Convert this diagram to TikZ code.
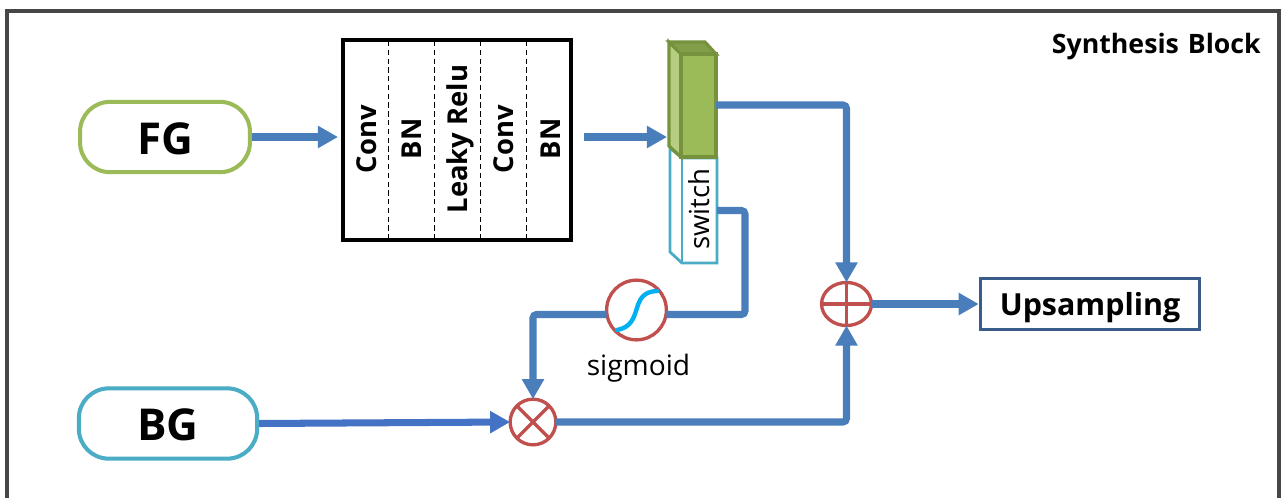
\documentclass[tikz,border=0pt]{standalone}
\usepackage{fontspec}
\setmainfont{Open Sans}
\usetikzlibrary{arrows.meta,positioning,calc,shapes.geometric}
\definecolor{flow}{RGB}{74,126,187}
\definecolor{flowdeep}{RGB}{68,114,196}
\definecolor{leaf}{RGB}{155,187,89}
\definecolor{leafdark}{RGB}{118,146,60}
\definecolor{leaflight}{RGB}{182,206,130}
\definecolor{leaftop}{RGB}{131,158,75}
\definecolor{aqua}{RGB}{75,172,198}
\definecolor{brick}{RGB}{192,80,77}
\definecolor{navy}{RGB}{56,93,138}
\definecolor{frameline}{RGB}{70,70,70}
\definecolor{sigcurve}{RGB}{0,176,240}
\tikzset{
  flowline/.style={draw=flow,line width=4pt,rounded corners=2pt},
  flowarrow/.style={flowline,-{Triangle[length=11.4pt,width=12pt]}},
  pill/.style={rounded corners=17pt,fill=white,line width=2.3pt,minimum height=40pt,font=\fontsize{25}{25}\selectfont\bfseries},
  opcircle/.style={draw=brick,line width=1.9pt,fill=white,inner sep=0pt,outer sep=0pt},
  layertext/.style={rotate=90,anchor=base,font=\fontsize{15.6}{15.6}\selectfont\bfseries},
}
\begin{document}
\begin{tikzpicture}[x=0.02cm,y=-0.02cm]
  \useasboundingbox (0,0) rectangle (1282,498);
  % outer frame
  \draw[frameline,line width=1.9pt] (7,498) |- (1279,11) -- (1279,498);
  \node[anchor=base east,font=\fontsize{15.2}{15.2}\selectfont\bfseries] (title) at (1267,53) {Synthesis\,\,Block};
  % inputs
  \node[pill,draw=leaf,minimum width=96.7pt,text height=24pt,text depth=3.6pt] (fg) at (165,137) {FG};
  \node[pill,draw=aqua,minimum width=101.5pt,text height=23pt,text depth=4.2pt] (bg) at (168,423.5) {BG};
  % layer stack
  \node[draw,line width=2.2pt,minimum width=130pt,minimum height=113.5pt,inner sep=0pt] (stack) at (457,140) {};
  \foreach \x in {388,434,480,526}
    \draw[densely dashed,line width=0.5pt] (\x,41) -- (\x,239);
  \foreach \l/\x in {Conv/376,BN/421,Leaky Relu/467,Conv/513,BN/560}
    \node[layertext] at (\x,139) {\l};
  % switch box
  \draw[aqua,line width=1.6pt,fill=white] (670,148) -- (670,252) -- (682,263) -- (717,263) -- (717,158) -- (682,158) -- cycle;
  \draw[aqua,line width=1.6pt] (682,158) -- (682,263);
  \node[rotate=90,anchor=base,font=\fontsize{15.7}{15.7}\selectfont] (switch) at (709,209) {switch};
  \coordinate (switchout) at (717,210.5);
  % feature block
  \draw[leafdark,line width=1.8pt,fill=leaflight] (669,42) -- (669,146) -- (681,157) -- (681,54) -- cycle;
  \draw[leafdark,line width=1.8pt,fill=leaftop] (669,42) -- (705,42) -- (716,54) -- (681,54) -- cycle;
  \draw[leafdark,line width=1.8pt,fill=leaf] (681,54) rectangle (716,157);
  \coordinate (featin) at (667,137);
  \coordinate (featout) at (716,105);
  % operators
  \node[opcircle,circle,minimum size=34pt] (sigm) at (636.5,310) {};
  \draw[sigcurve,line width=2.5pt,line cap=round] (617,330) .. controls (645,325) and (628,292) .. (657,291);
  \node[font=\fontsize{16}{16}\selectfont] (sigmlabel) at (638.5,368) {sigmoid};
  \node[opcircle,circle,minimum size=26pt] (mul) at (533,422) {};
  \draw[brick,line width=1.9pt] (mul.north west) -- (mul.south east) (mul.north east) -- (mul.south west);
  \node[opcircle,ellipse,minimum width=28.4pt,minimum height=24.5pt] (add) at (846.5,304) {};
  \draw[brick,line width=1.9pt] (add.north) -- (add.south) (add.west) -- (add.east);
  \node[draw=navy,line width=1.7pt,minimum width=125pt,minimum height=28.7pt,text height=17pt,text depth=4.4pt,font=\fontsize{17.3}{17.3}\selectfont\bfseries] (up) at (1090,304) {Upsampling};
  % connectors
  \coordinate (fgend) at (338,137);
  \coordinate (stackout) at (584,137);
  \draw[flowarrow] (fg.east) -- (fgend);
  \draw[flowarrow] (stackout) -- (featin);
  \draw[flowarrow] (featout) -| (add.north);
  \draw[flowline] (switchout) -| (745,314.5) -- (sigm.east |- 0,314.5);
  \draw[flowarrow] (sigm.west |- 0,314.5) -| (mul.north);
  \draw[flowarrow,draw=flowdeep] (bg.east) -- (mul.west);
  \draw[flowarrow] (mul.east) -| (add.south);
  \draw[flowarrow] (add.east) -- (up.west);
\end{tikzpicture}
\end{document}
